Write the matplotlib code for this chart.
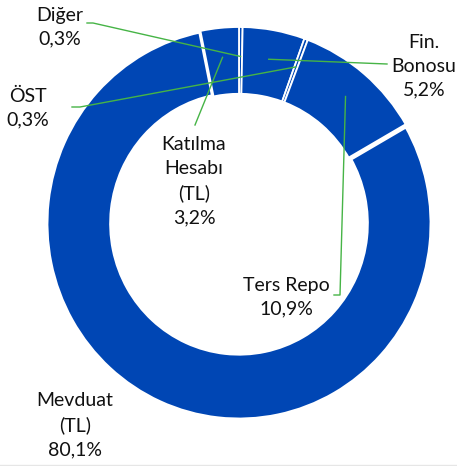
import matplotlib.pyplot as plt
import numpy as np
from matplotlib.lines import Line2D

# portfolio shares (%), clockwise from 12 o'clock
labels = ["Diğer", "Fin.\nBonosu", "ÖST", "Ters Repo", "Mevduat\n(TL)", "Katılma\nHesabı\n(TL)"]
shares = [0.3, 5.2, 0.3, 10.9, 80.1, 3.2]

BLUE = "#0046B4"
GREEN = "#46B446"

# pixel geometry of the reference: donut centre and (slightly unequal) radii
W, H = 457, 466
CX, CY, RX, RY = 239, 223.5, 193, 196.5


def px(x, y):
    return (x - CX) / RX, (CY - y) / RY


fig = plt.figure(figsize=(W / 100, H / 100), dpi=100)
ax = fig.add_axes([0, 0, 1, 1])

wedges, _ = ax.pie(shares, startangle=90, counterclock=False, radius=1,
                   colors=[BLUE] * len(shares),
                   wedgeprops=dict(width=0.34, edgecolor="white", linewidth=1.3))
wedges[4].set_linewidth(3.5)

# pie() resets the limits, so set them afterwards
ax.set_xlim(-CX / RX, (W - CX) / RX)
ax.set_ylim((CY - H) / RY, CY / RY)
ax.set_aspect("auto")
ax.axis("off")

# label text positions (pixel) and leader elbows
label_pos = [(60, 27), (424, 66), (28, 108), (286, 297), (75, 425), (194, 181)]
elbows = [[(87, 23), (93, 23)], [(387, 64)], [(72, 107), (80, 107)],
          [(334, 295), (340, 295)], None, [(195, 125)]]

cum = np.cumsum([0] + shares[:-1])
for i, (lab, val) in enumerate(zip(labels, shares)):
    txt = lab + "\n" + f"{val:.1f}%".replace(".", ",")
    x, y = px(*label_pos[i])
    ax.text(x, y, txt, ha="center", va="center", fontsize=14,
            family="Lato", linespacing=1.5, color="#111111")
    if elbows[i] is not None:
        mid = np.deg2rad(90 - (cum[i] + val / 2) * 3.6)
        tip = (0.85 * np.cos(mid), 0.85 * np.sin(mid))
        pts = [px(*p) for p in elbows[i]] + [tip]
        xs, ys = zip(*pts)
        ax.plot(xs, ys, color=GREEN, linewidth=1.0, zorder=5)

fig.add_artist(Line2D([0, 1], [1.5 / H, 1.5 / H], color="#E6E6E6", linewidth=1))

fig.savefig("out.png", dpi=100)
